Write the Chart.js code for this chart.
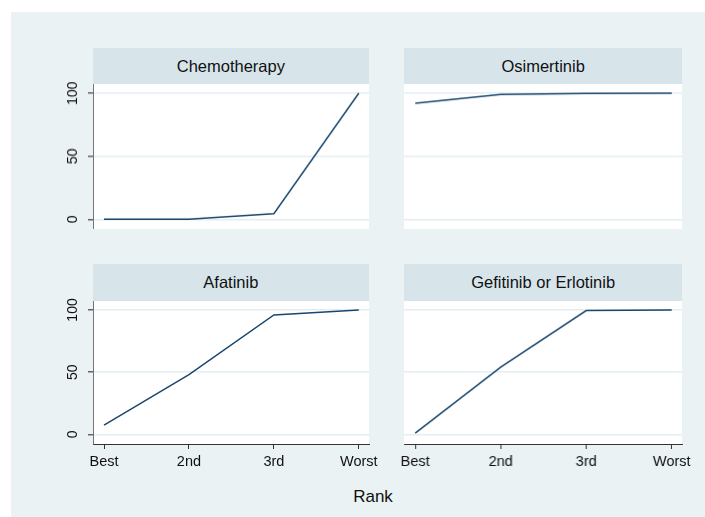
<!DOCTYPE html>
<html lang="en">
<head>
    <meta charset="UTF-8">
    <title>Cumulative ranking</title>
    <script src="https://cdn.jsdelivr.net/npm/chart.js"></script>
    <style>
        body {
            margin: 0;
            background-color: #fff;
            font-family: "Liberation Sans", Arial, sans-serif;
            width: 705px;
            height: 517px;
            overflow: hidden;
            position: relative;
        }

        .graph-region {
            position: absolute;
            left: 11px;
            top: 12px;
            right: 0;
            bottom: 0;
            background-color: #eaf2f3;
        }

        .strip {
            position: absolute;
            background-color: #d7e5eb;
            color: #111;
            font-size: 16.5px;
            display: flex;
            align-items: center;
            justify-content: center;
        }

        .plot-bg {
            position: absolute;
            background-color: #fff;
        }

        canvas {
            position: absolute;
        }

        #rankTitle {
            position: absolute;
            left: 323px;
            width: 100px;
            top: 487px;
            text-align: center;
            font-size: 17px;
            color: #111;
        }
    </style>
</head>
<body>
    <div class="graph-region"></div>
    <div id="rankTitle">Rank</div>

    <script>
        // data (cumulative probability, %)
        const rankLabels = ['Best', '2nd', '3rd', 'Worst'];
        const treatments = ['Chemotherapy', 'Osimertinib', 'Afatinib', 'Gefitinib or Erlotinib'];
        const chemotherapy = [0, 0, 4.5, 100];
        const osimertinib = [92, 99, 99.8, 100];
        const afatinib = [7.5, 48, 96, 100];
        const gefitinibErlotinib = [1, 54, 99.5, 100];
        const yTicks = [0, 50, 100];

        const series = [chemotherapy, osimertinib, afatinib, gefitinibErlotinib];

        // panel geometry (plot area in page pixels)
        const panels = [
            { left: 92.7, right: 369, top: 84.3, bottom: 228.7, stripTop: 48.3, showY: true,  showX: false },
            { left: 404.3, right: 682, top: 84.3, bottom: 228.7, stripTop: 48.3, showY: false, showX: false },
            { left: 92.7, right: 369, top: 301, bottom: 444, stripTop: 264.3, showY: true,  showX: true },
            { left: 404.3, right: 682, top: 301, bottom: 444, stripTop: 264.3, showY: false, showX: true }
        ];

        const fontFamily = '"Liberation Sans", Arial, sans-serif';
        const lineColor = '#1a476f';
        const gridColor = '#e4eef1';

        panels.forEach((p, i) => {
            const strip = document.createElement('div');
            strip.className = 'strip';
            strip.style.left = p.left + 'px';
            strip.style.top = p.stripTop + 'px';
            strip.style.width = (p.right - p.left) + 'px';
            strip.style.height = (p.top - p.stripTop) + 'px';
            strip.textContent = treatments[i];
            document.body.appendChild(strip);

            const bg = document.createElement('div');
            bg.className = 'plot-bg';
            bg.style.left = p.left + 'px';
            bg.style.top = p.top + 'px';
            bg.style.width = (p.right - p.left) + 'px';
            bg.style.height = (p.bottom - p.top) + 'px';
            document.body.appendChild(bg);

            const yWidth = 42;
            const padTop = 14;
            const xHeight = p.showX ? 32 : 0;
            const padRight = p.showX ? 22 : 0;

            const canvas = document.createElement('canvas');
            const cLeft = p.left - yWidth;
            const cWidth = (p.right - p.left) + yWidth + padRight;
            const cHeight = (p.bottom - p.top) + xHeight + padTop;
            canvas.style.left = cLeft + 'px';
            canvas.style.top = (p.top - padTop) + 'px';
            canvas.style.width = cWidth + 'px';
            canvas.style.height = cHeight + 'px';
            canvas.width = cWidth;
            canvas.height = cHeight;
            document.body.appendChild(canvas);

            new Chart(canvas.getContext('2d'), {
                type: 'line',
                data: {
                    datasets: [{
                        data: series[i].map((v, k) => ({ x: k, y: v })),
                        borderColor: lineColor,
                        borderWidth: 1.5,
                        pointRadius: 0,
                        tension: 0,
                        fill: false
                    }]
                },
                options: {
                    responsive: false,
                    animation: false,
                    layout: { padding: { left: 0, right: padRight, top: padTop, bottom: 0 } },
                    plugins: { legend: { display: false }, tooltip: { enabled: false } },
                    scales: {
                        x: {
                            type: 'linear',
                            display: p.showX,
                            min: -0.13,
                            max: 3.12,
                            afterBuildTicks: s => { s.ticks = rankLabels.map((_, k) => ({ value: k })); },
                            afterFit: s => { s.height = xHeight; },
                            grid: { drawOnChartArea: false, tickLength: 5, tickColor: '#333' },
                            border: { color: '#333', width: 1 },
                            ticks: {
                                autoSkip: false,
                                maxRotation: 0,
                                padding: 4,
                                color: '#111',
                                font: { family: fontFamily, size: 14.5 },
                                callback: v => rankLabels[v]
                            }
                        },
                        y: {
                            min: -7.7,
                            max: 107.2,
                            afterBuildTicks: s => { s.ticks = yTicks.map(v => ({ value: v })); },
                            afterFit: s => {
                                s.width = yWidth;
                                s.paddingTop = 0;
                                s.paddingBottom = 0;
                            },
                            grid: {
                                color: gridColor,
                                lineWidth: 1.5,
                                drawTicks: p.showY,
                                tickLength: 5,
                                tickColor: '#666'
                            },
                            border: { display: p.showY, color: '#777', width: 1 },
                            ticks: {
                                display: p.showY,
                                minRotation: 90,
                                maxRotation: 90,
                                crossAlign: 'center',
                                padding: 3,
                                color: '#111',
                                font: { family: fontFamily, size: 14 }
                            }
                        }
                    }
                }
            });
        });
    </script>
</body>
</html>
